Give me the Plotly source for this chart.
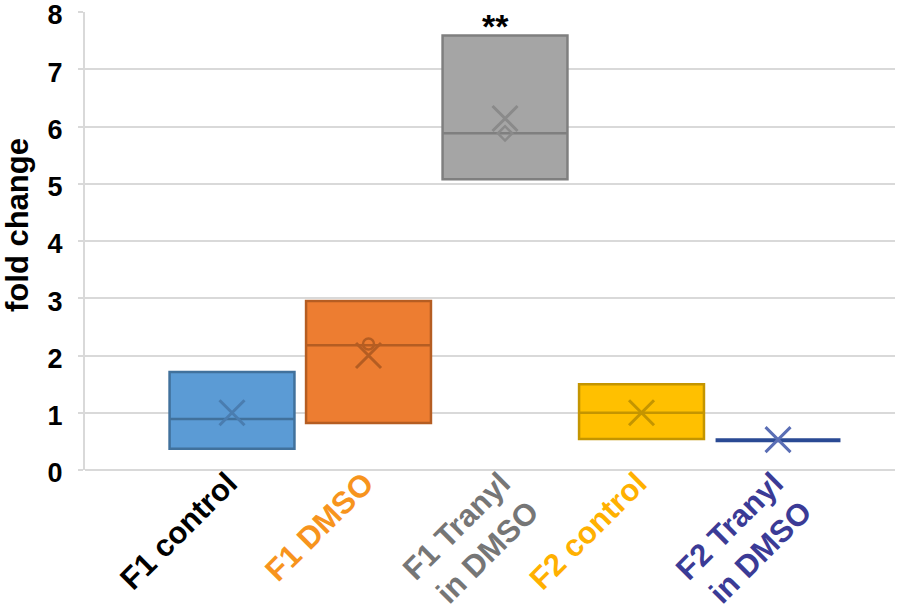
import plotly.graph_objects as go

categories = ["F1 control", "F1 DMSO", "F1 Tranyl in DMSO", "F2 control", "F2 Tranyl in DMSO"]
tick_labels = ["F1 control", "F1 DMSO", "F1 Tranyl<br>in DMSO", "F2 control", "F2 Tranyl<br>in DMSO"]
label_colors = ["#000000", "#F7941D", "#767676", "#FFB000", "#3B3B96"]
q1 = [0.37, 0.82, 5.08, 0.54, 0.52]
median = [0.89, 2.18, 5.88, 1.00, 0.52]
q3 = [1.71, 2.95, 7.59, 1.50, 0.52]
mean = [1.00, 2.00, 6.14, 1.00, 0.53]
inner_points_x = ["F1 DMSO", "F1 Tranyl in DMSO"]
inner_points_y = [2.20, 5.88]
fill_colors = ["#5B9BD5", "#ED7D31", "#A5A5A5", "#FFC000", "#4472C4"]
line_colors = ["#41719C", "#B55D22", "#7F7F7F", "#C49500", "#2A4A94"]
line_widths = [2.5, 2.5, 2.5, 2.5, 4]
mean_colors = ["#4A7DB0", "#B55D22", "#8A8A8A", "#C49500", "#5A6EB5"]
significance = {"F1 Tranyl in DMSO": "**"}
y_title = "fold change"

fig = go.Figure()
for i, c in enumerate(categories):
    fig.add_trace(go.Box(
        x=[c], q1=[q1[i]], median=[median[i]], q3=[q3[i]],
        lowerfence=[q1[i]], upperfence=[q3[i]],
        fillcolor=fill_colors[i], line=dict(color=line_colors[i], width=line_widths[i]),
        width=0.915, boxpoints=False, showlegend=False, whiskerwidth=0,
    ))
    fig.add_trace(go.Scatter(
        x=[c], y=[mean[i]], mode="markers",
        marker=dict(symbol="x-thin", size=25, line=dict(color=mean_colors[i], width=3)),
        showlegend=False,
    ))

fig.add_trace(go.Scatter(
    x=inner_points_x, y=inner_points_y, mode="markers",
    marker=dict(symbol=["circle-open", "diamond-open"], size=11,
                color=["#B55D22", "#8A8A8A"], line=dict(width=2.5)),
    showlegend=False,
))

for k, v in significance.items():
    fig.add_annotation(x=k, y=q3[categories.index(k)], text="<b>" + v + "</b>", showarrow=False,
                       yshift=-12, xshift=-10, yanchor="bottom",
                       font=dict(size=34, color="#000000", family="Liberation Sans, Arial"))

fig.add_annotation(text="<b>" + y_title + "</b>", textangle=-90, showarrow=False,
                   xref="paper", yref="paper", x=-0.0827, y=0.535,
                   xanchor="center", yanchor="middle",
                   font=dict(size=31, color="#000000", family="Liberation Sans, Arial"))

ticktext = ["<span style='color:%s'><b>%s</b></span>" % (col, t) for col, t in zip(label_colors, tick_labels)]

fig.update_layout(
    width=898, height=612,
    margin=dict(l=85, r=3, t=12, b=142),
    paper_bgcolor="white", plot_bgcolor="white",
    boxmode="overlay",
    font=dict(family="Liberation Sans, Arial", color="#000000"),
    xaxis=dict(
        type="category", categoryorder="array", categoryarray=categories,
        range=[-1.077, 4.857], automargin=False,
        tickmode="array", tickvals=categories, ticktext=ticktext,
        tickangle=-45, tickfont=dict(size=31),
        ticklabelstandoff=-12, ticklabelshift=-4,
        showgrid=False, showline=False, zeroline=False, ticks="",
    ),
    yaxis=dict(
        range=[0, 8.0001], dtick=1, tick0=0, automargin=False,
        showgrid=True, gridcolor="#D9D9D9", gridwidth=2,
        showline=True, linecolor="#D9D9D9", linewidth=2,
        zeroline=True, zerolinecolor="#D9D9D9", zerolinewidth=2,
        ticks="outside", ticklen=5, tickcolor="#D9D9D9", tickwidth=2,
        tickfont=dict(size=27), tickprefix="<b>", ticksuffix="</b>",
        ticklabeloverflow="allow", ticklabelstandoff=10, ticklabelshift=3,
    ),
)

fig.write_html("out.html", config={"displayModeBar": False},
               post_script="document.body.style.margin='0';")
